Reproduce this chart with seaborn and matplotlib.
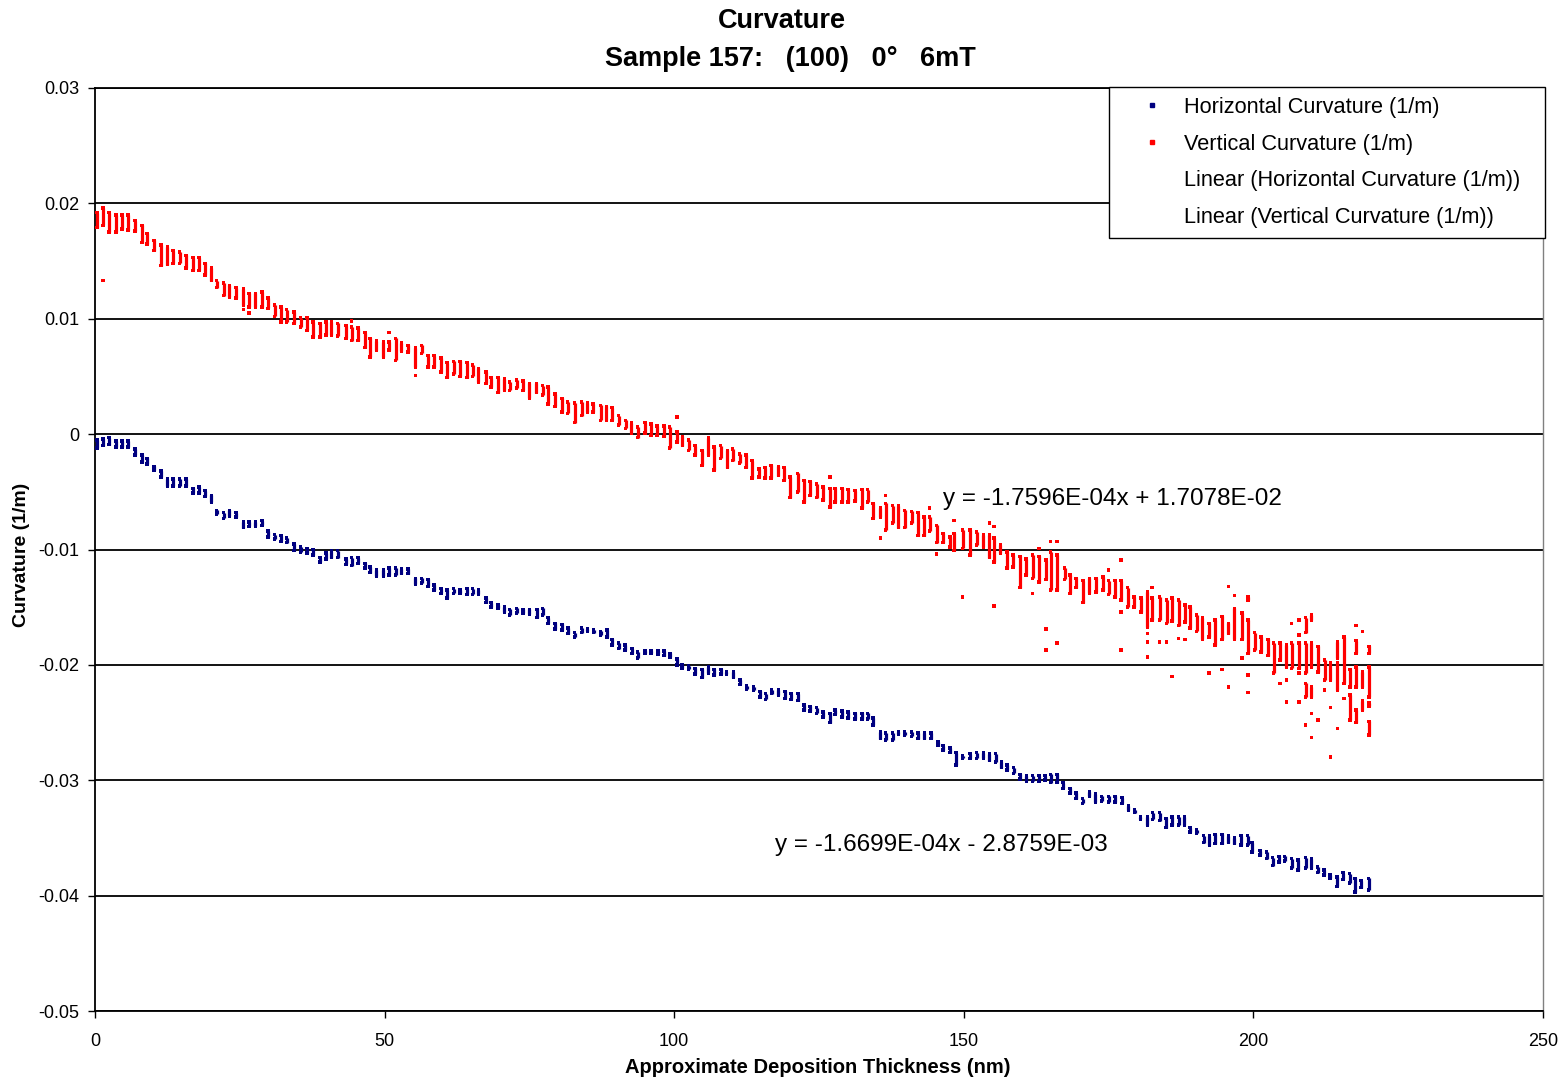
import matplotlib
matplotlib.use("Agg")
import matplotlib.pyplot as plt
from matplotlib.lines import Line2D
import seaborn as sns
import pandas as pd

# ---- Horizontal curvature: each column is a short stack of readings (x, top, bottom)
h_x = [0.3, 1.4, 2.4, 3.6, 4.7, 5.7, 6.9, 8.1, 9.0, 10.2, 11.4, 12.5, 13.5, 14.6, 15.7, 16.9, 18.0, 19.0, 20.1,
       21.0, 22.2, 23.2, 24.3, 25.6, 26.6, 27.7, 28.8, 29.9, 31.0, 32.1, 33.1, 34.4, 35.5, 36.6, 37.6, 38.8,
       39.9, 40.8, 41.9, 43.3, 44.3, 45.4, 46.6, 47.5, 48.6, 49.8, 50.8, 51.9, 52.9, 54.0, 55.3, 56.4, 57.5,
       58.5, 59.7, 60.8, 61.9, 63.0, 64.2, 65.2, 66.2, 67.5, 68.4, 69.6, 70.7, 71.6, 72.8, 73.9, 75.0, 76.3,
       77.3, 78.2, 79.4, 80.6, 81.7, 82.8, 84.0, 85.0, 86.1, 87.3, 88.4, 89.3, 90.4, 91.5, 92.7, 93.7, 95.0,
       96.0, 97.2, 98.2, 99.3, 100.5, 101.3, 102.5, 103.6, 104.8, 105.9, 106.9, 108.1, 109.0, 110.2, 111.4,
       112.5, 113.7, 114.8, 115.8, 116.8, 118.0, 119.1, 120.2, 121.4, 122.4, 123.4, 124.6, 125.7, 126.9, 127.8,
       129.0, 130.0, 131.2, 132.4, 133.4, 134.3, 135.6, 136.5, 137.7, 138.7, 139.8, 141.0, 142.1, 143.2, 144.3,
       145.5, 146.4, 147.6, 148.7, 149.8, 151.1, 152.2, 153.4, 154.4, 155.5, 156.5, 157.5, 158.6, 159.7, 160.8,
       161.9, 163.0, 164.0, 165.0, 166.1, 167.1, 168.3, 169.4, 170.5, 171.7, 172.7, 173.8, 175.0, 176.1, 177.3,
       178.4, 179.5, 180.5, 181.7, 182.6, 183.8, 184.9, 185.9, 187.1, 188.1, 189.1, 190.2, 191.4, 192.4, 193.4,
       194.6, 195.7, 196.7, 197.9, 199.0, 199.8, 201.1, 202.3, 203.3, 204.4, 205.4, 206.6, 207.7, 209.0, 210.0,
       211.1, 212.2, 213.2, 214.4, 215.5, 216.6, 217.5, 218.6, 219.9]
h_top = [-0.0005, -0.0004, -0.0003, -0.0006, -0.0006, -0.0006, -0.0013, -0.0018, -0.0021, -0.0028, -0.0032,
         -0.0039, -0.0039, -0.0039, -0.0039, -0.0047, -0.0046, -0.0049, -0.0053, -0.0066, -0.0068, -0.0066,
         -0.0068, -0.0076, -0.0076, -0.0076, -0.0075, -0.0084, -0.0087, -0.0088, -0.0090, -0.0095, -0.0098,
         -0.0099, -0.0100, -0.0107, -0.0103, -0.0101, -0.0101, -0.0108, -0.0107, -0.0107, -0.0112, -0.0115,
         -0.0118, -0.0118, -0.0116, -0.0116, -0.0117, -0.0117, -0.0125, -0.0125, -0.0126, -0.0131, -0.0134,
         -0.0135, -0.0134, -0.0135, -0.0134, -0.0134, -0.0135, -0.0142, -0.0146, -0.0148, -0.0150, -0.0152,
         -0.0151, -0.0152, -0.0152, -0.0152, -0.0151, -0.0159, -0.0164, -0.0165, -0.0168, -0.0172, -0.0168,
         -0.0169, -0.0170, -0.0171, -0.0170, -0.0178, -0.0181, -0.0183, -0.0186, -0.0189, -0.0188, -0.0188,
         -0.0188, -0.0188, -0.0190, -0.0195, -0.0200, -0.0201, -0.0203, -0.0204, -0.0202, -0.0204, -0.0204,
         -0.0206, -0.0206, -0.0213, -0.0218, -0.0219, -0.0223, -0.0225, -0.0222, -0.0222, -0.0223, -0.0225,
         -0.0225, -0.0235, -0.0236, -0.0237, -0.0241, -0.0242, -0.0239, -0.0240, -0.0241, -0.0242, -0.0242,
         -0.0242, -0.0246, -0.0258, -0.0259, -0.0259, -0.0258, -0.0258, -0.0258, -0.0259, -0.0259, -0.0259,
         -0.0267, -0.0270, -0.0272, -0.0276, -0.0279, -0.0277, -0.0276, -0.0276, -0.0277, -0.0277, -0.0284,
         -0.0287, -0.0289, -0.0295, -0.0296, -0.0296, -0.0296, -0.0296, -0.0295, -0.0295, -0.0302, -0.0307,
         -0.0311, -0.0316, -0.0310, -0.0312, -0.0314, -0.0314, -0.0314, -0.0315, -0.0322, -0.0326, -0.0332,
         -0.0332, -0.0328, -0.0328, -0.0333, -0.0332, -0.0332, -0.0332, -0.0341, -0.0343, -0.0348, -0.0348,
         -0.0347, -0.0347, -0.0348, -0.0350, -0.0348, -0.0348, -0.0354, -0.0361, -0.0362, -0.0367, -0.0366,
         -0.0366, -0.0368, -0.0369, -0.0367, -0.0368, -0.0375, -0.0378, -0.0382, -0.0384, -0.0380, -0.0381,
         -0.0385, -0.0387, -0.0385]
h_bot = [-0.0012, -0.0010, -0.0009, -0.0011, -0.0011, -0.0011, -0.0018, -0.0024, -0.0026, -0.0031, -0.0037,
         -0.0045, -0.0045, -0.0045, -0.0045, -0.0051, -0.0051, -0.0054, -0.0059, -0.0069, -0.0073, -0.0071,
         -0.0072, -0.0081, -0.0080, -0.0080, -0.0079, -0.0089, -0.0091, -0.0093, -0.0094, -0.0101, -0.0102,
         -0.0103, -0.0105, -0.0111, -0.0108, -0.0107, -0.0107, -0.0113, -0.0114, -0.0112, -0.0116, -0.0120,
         -0.0123, -0.0123, -0.0122, -0.0122, -0.0121, -0.0121, -0.0130, -0.0129, -0.0132, -0.0135, -0.0138,
         -0.0142, -0.0138, -0.0138, -0.0139, -0.0139, -0.0139, -0.0146, -0.0150, -0.0151, -0.0154, -0.0157,
         -0.0155, -0.0155, -0.0156, -0.0159, -0.0157, -0.0164, -0.0169, -0.0170, -0.0173, -0.0176, -0.0172,
         -0.0171, -0.0172, -0.0174, -0.0176, -0.0183, -0.0186, -0.0187, -0.0190, -0.0194, -0.0190, -0.0190,
         -0.0191, -0.0192, -0.0193, -0.0200, -0.0203, -0.0204, -0.0208, -0.0211, -0.0207, -0.0209, -0.0208,
         -0.0208, -0.0211, -0.0217, -0.0221, -0.0222, -0.0228, -0.0230, -0.0225, -0.0226, -0.0229, -0.0230,
         -0.0231, -0.0239, -0.0240, -0.0242, -0.0245, -0.0250, -0.0243, -0.0245, -0.0246, -0.0247, -0.0247,
         -0.0247, -0.0252, -0.0264, -0.0265, -0.0265, -0.0260, -0.0261, -0.0262, -0.0264, -0.0264, -0.0264,
         -0.0270, -0.0274, -0.0276, -0.0287, -0.0281, -0.0281, -0.0281, -0.0281, -0.0283, -0.0284, -0.0289,
         -0.0291, -0.0294, -0.0299, -0.0301, -0.0301, -0.0301, -0.0300, -0.0302, -0.0302, -0.0307, -0.0311,
         -0.0316, -0.0320, -0.0314, -0.0319, -0.0318, -0.0319, -0.0319, -0.0320, -0.0326, -0.0328, -0.0334,
         -0.0339, -0.0334, -0.0335, -0.0341, -0.0339, -0.0339, -0.0339, -0.0345, -0.0346, -0.0354, -0.0356,
         -0.0355, -0.0355, -0.0354, -0.0355, -0.0356, -0.0356, -0.0362, -0.0365, -0.0368, -0.0374, -0.0371,
         -0.0370, -0.0376, -0.0378, -0.0376, -0.0376, -0.0380, -0.0382, -0.0385, -0.0392, -0.0386, -0.0389,
         -0.0397, -0.0393, -0.0395]

# ---- Vertical curvature: stacks of readings, several stacks may share one x
v_x = [0.3, 1.4, 1.4, 2.4, 3.6, 4.7, 5.7, 6.9, 8.1, 9.0, 10.2, 11.4, 12.5, 13.5, 14.6, 15.7, 16.9, 18.0, 19.0,
       20.1, 21.0, 22.2, 23.2, 24.3, 25.6, 25.6, 26.6, 26.6, 27.7, 28.8, 29.9, 31.0, 32.1, 33.1, 34.4, 35.5,
       36.6, 37.6, 38.8, 39.9, 40.8, 41.9, 43.3, 44.3, 44.3, 45.4, 46.6, 47.5, 48.6, 49.8, 50.8, 50.8, 51.9,
       52.9, 54.0, 55.3, 55.3, 56.4, 57.5, 58.5, 59.7, 60.8, 61.9, 63.0, 64.2, 65.2, 66.2, 67.5, 68.4, 69.6,
       70.7, 71.6, 72.8, 73.9, 75.0, 76.2, 77.3, 78.2, 79.4, 80.6, 81.6, 82.8, 84.0, 85.0, 86.0, 87.3, 88.3,
       89.3, 90.4, 91.6, 92.6, 93.7, 95.0, 96.0, 97.0, 98.2, 99.2, 100.5, 100.5, 101.4, 102.5, 103.6, 104.8,
       105.9, 106.9, 108.0, 109.2, 110.1, 111.3, 112.4, 113.4, 114.6, 115.7, 116.7, 118.0, 119.0, 120.0, 121.3,
       122.4, 123.4, 124.6, 125.7, 126.9, 126.9, 127.8, 129.0, 130.0, 131.2, 132.4, 133.4, 134.3, 135.6, 135.6,
       136.5, 136.5, 137.7, 138.7, 139.8, 141.0, 142.1, 143.1, 144.1, 144.1, 145.3, 145.3, 146.4, 147.6, 148.3,
       148.3, 149.8, 149.8, 151.1, 152.2, 153.4, 154.4, 154.4, 155.2, 155.2, 155.2, 156.3, 157.5, 158.5, 159.7,
       160.7, 161.9, 161.9, 163.0, 163.0, 164.2, 164.2, 164.2, 165.0, 165.0, 166.1, 166.1, 166.1, 167.4, 168.3,
       169.4, 170.6, 171.7, 172.8, 174.0, 175.0, 175.0, 176.1, 177.1, 177.1, 177.1, 177.1, 178.3, 179.4, 180.6,
       181.7, 181.7, 181.7, 181.7, 182.5, 182.5, 183.8, 183.8, 185.0, 185.0, 185.9, 185.9, 187.1, 187.1, 188.2,
       188.2, 189.1, 190.2, 191.2, 192.3, 192.3, 193.4, 194.6, 194.6, 195.7, 195.7, 195.7, 196.7, 196.7, 198.0,
       198.0, 199.1, 199.1, 199.1, 199.1, 200.2, 201.3, 202.5, 203.5, 204.6, 204.6, 205.7, 205.7, 205.7, 206.6,
       206.6, 207.9, 207.9, 207.9, 207.9, 207.9, 209.0, 209.0, 209.0, 209.0, 210.0, 210.0, 210.0, 210.0, 210.0,
       211.2, 211.2, 212.3, 212.3, 213.3, 213.3, 213.3, 214.5, 214.5, 214.5, 215.6, 215.6, 216.7, 216.7, 217.7,
       217.7, 217.7, 217.7, 218.8, 218.8, 218.8, 220.0, 220.0, 220.0, 220.0]
v_top = [0.0192, 0.0196, 0.0133, 0.0192, 0.0190, 0.0190, 0.0190, 0.0185, 0.0181, 0.0174, 0.0168, 0.0164, 0.0162,
         0.0159, 0.0158, 0.0155, 0.0153, 0.0153, 0.0148, 0.0144, 0.0133, 0.0131, 0.0129, 0.0127, 0.0126, 0.0108,
         0.0122, 0.0105, 0.0122, 0.0123, 0.0118, 0.0112, 0.0110, 0.0108, 0.0106, 0.0101, 0.0101, 0.0097, 0.0096,
         0.0097, 0.0097, 0.0096, 0.0094, 0.0098, 0.0093, 0.0092, 0.0088, 0.0083, 0.0081, 0.0080, 0.0088, 0.0080,
         0.0083, 0.0079, 0.0077, 0.0075, 0.0051, 0.0077, 0.0068, 0.0068, 0.0066, 0.0062, 0.0063, 0.0063, 0.0062,
         0.0060, 0.0057, 0.0054, 0.0049, 0.0049, 0.0048, 0.0045, 0.0047, 0.0046, 0.0044, 0.0044, 0.0042, 0.0041,
         0.0035, 0.0031, 0.0028, 0.0027, 0.0028, 0.0027, 0.0026, 0.0025, 0.0024, 0.0023, 0.0016, 0.0012, 0.0010,
         0.0006, 0.0010, 0.0009, 0.0007, 0.0007, 0.0006, 0.0015, 0.0002, -0.0002, -0.0005, -0.0010, -0.0014,
         -0.0003, -0.0011, -0.0010, -0.0014, -0.0013, -0.0017, -0.0018, -0.0023, -0.0030, -0.0029, -0.0027,
         -0.0028, -0.0029, -0.0037, -0.0034, -0.0040, -0.0041, -0.0043, -0.0046, -0.0037, -0.0047, -0.0047,
         -0.0047, -0.0048, -0.0049, -0.0048, -0.0048, -0.0060, -0.0064, -0.0090, -0.0053, -0.0060, -0.0062,
         -0.0062, -0.0066, -0.0067, -0.0068, -0.0072, -0.0064, -0.0072, -0.0079, -0.0104, -0.0086, -0.0089,
         -0.0075, -0.0086, -0.0083, -0.0141, -0.0083, -0.0085, -0.0087, -0.0077, -0.0087, -0.0080, -0.0090,
         -0.0149, -0.0096, -0.0102, -0.0105, -0.0106, -0.0108, -0.0105, -0.0138, -0.0099, -0.0106, -0.0109,
         -0.0169, -0.0187, -0.0093, -0.0102, -0.0093, -0.0105, -0.0181, -0.0116, -0.0122, -0.0125, -0.0127,
         -0.0125, -0.0125, -0.0124, -0.0118, -0.0127, -0.0127, -0.0109, -0.0127, -0.0154, -0.0187, -0.0133,
         -0.0141, -0.0142, -0.0137, -0.0173, -0.0180, -0.0193, -0.0133, -0.0142, -0.0141, -0.0180, -0.0144,
         -0.0180, -0.0142, -0.0210, -0.0144, -0.0177, -0.0148, -0.0178, -0.0150, -0.0157, -0.0159, -0.0164,
         -0.0207, -0.0161, -0.0158, -0.0204, -0.0132, -0.0164, -0.0219, -0.0140, -0.0151, -0.0155, -0.0194,
         -0.0141, -0.0161, -0.0209, -0.0224, -0.0172, -0.0176, -0.0178, -0.0181, -0.0181, -0.0216, -0.0183,
         -0.0213, -0.0232, -0.0164, -0.0181, -0.0161, -0.0174, -0.0181, -0.0207, -0.0232, -0.0159, -0.0181,
         -0.0216, -0.0252, -0.0157, -0.0181, -0.0219, -0.0242, -0.0263, -0.0184, -0.0248, -0.0196, -0.0222,
         -0.0198, -0.0237, -0.0280, -0.0180, -0.0198, -0.0255, -0.0176, -0.0229, -0.0204, -0.0226, -0.0166,
         -0.0179, -0.0202, -0.0239, -0.0171, -0.0206, -0.0231, -0.0184, -0.0202, -0.0233, -0.0249]
v_bot = [0.0179, 0.0181, 0.0133, 0.0175, 0.0175, 0.0178, 0.0177, 0.0176, 0.0166, 0.0165, 0.0159, 0.0146, 0.0147,
         0.0148, 0.0148, 0.0144, 0.0142, 0.0142, 0.0138, 0.0133, 0.0127, 0.0120, 0.0119, 0.0118, 0.0112, 0.0108,
         0.0110, 0.0105, 0.0110, 0.0110, 0.0109, 0.0102, 0.0097, 0.0097, 0.0096, 0.0093, 0.0090, 0.0084, 0.0084,
         0.0086, 0.0086, 0.0085, 0.0083, 0.0098, 0.0081, 0.0081, 0.0075, 0.0067, 0.0073, 0.0067, 0.0088, 0.0073,
         0.0064, 0.0072, 0.0071, 0.0058, 0.0051, 0.0070, 0.0058, 0.0058, 0.0054, 0.0049, 0.0052, 0.0050, 0.0049,
         0.0050, 0.0045, 0.0044, 0.0041, 0.0036, 0.0038, 0.0038, 0.0040, 0.0038, 0.0031, 0.0036, 0.0034, 0.0026,
         0.0024, 0.0019, 0.0018, 0.0010, 0.0016, 0.0019, 0.0019, 0.0012, 0.0012, 0.0012, 0.0008, 0.0005, 0.0001,
         -0.0003, 0.0001, -0.0001, -0.0001, -0.0002, -0.0012, 0.0015, -0.0007, -0.0010, -0.0014, -0.0018, -0.0027,
         -0.0018, -0.0031, -0.0021, -0.0029, -0.0023, -0.0025, -0.0029, -0.0038, -0.0037, -0.0038, -0.0038,
         -0.0036, -0.0040, -0.0055, -0.0050, -0.0059, -0.0053, -0.0055, -0.0057, -0.0037, -0.0063, -0.0059,
         -0.0059, -0.0059, -0.0058, -0.0064, -0.0059, -0.0073, -0.0072, -0.0090, -0.0053, -0.0083, -0.0077,
         -0.0081, -0.0081, -0.0077, -0.0088, -0.0088, -0.0064, -0.0084, -0.0094, -0.0104, -0.0094, -0.0098,
         -0.0075, -0.0101, -0.0099, -0.0141, -0.0105, -0.0096, -0.0098, -0.0077, -0.0107, -0.0080, -0.0111,
         -0.0149, -0.0103, -0.0116, -0.0115, -0.0133, -0.0122, -0.0125, -0.0138, -0.0099, -0.0128, -0.0126,
         -0.0169, -0.0187, -0.0093, -0.0135, -0.0093, -0.0135, -0.0181, -0.0126, -0.0138, -0.0133, -0.0146,
         -0.0138, -0.0137, -0.0135, -0.0118, -0.0139, -0.0141, -0.0109, -0.0144, -0.0154, -0.0187, -0.0150,
         -0.0150, -0.0154, -0.0167, -0.0173, -0.0180, -0.0193, -0.0133, -0.0161, -0.0161, -0.0180, -0.0164,
         -0.0180, -0.0162, -0.0210, -0.0166, -0.0177, -0.0163, -0.0178, -0.0168, -0.0171, -0.0178, -0.0176,
         -0.0207, -0.0183, -0.0178, -0.0204, -0.0132, -0.0173, -0.0219, -0.0140, -0.0178, -0.0178, -0.0194,
         -0.0144, -0.0190, -0.0209, -0.0224, -0.0187, -0.0189, -0.0192, -0.0207, -0.0196, -0.0216, -0.0202,
         -0.0213, -0.0232, -0.0164, -0.0203, -0.0161, -0.0174, -0.0203, -0.0207, -0.0232, -0.0172, -0.0207,
         -0.0228, -0.0252, -0.0161, -0.0202, -0.0228, -0.0242, -0.0263, -0.0206, -0.0248, -0.0213, -0.0222,
         -0.0213, -0.0237, -0.0280, -0.0194, -0.0222, -0.0255, -0.0216, -0.0229, -0.0219, -0.0248, -0.0166,
         -0.0190, -0.0219, -0.0250, -0.0171, -0.0219, -0.0239, -0.0190, -0.0228, -0.0236, -0.0261]

# ---- labels, ticks and fitted trend equations
series_names = ["Horizontal Curvature (1/m)", "Vertical Curvature (1/m)",
                "Linear (Horizontal Curvature (1/m))", "Linear (Vertical Curvature (1/m))"]
x_ticks = [0, 50, 100, 150, 200, 250]
y_ticks = [0.03, 0.02, 0.01, 0, -0.01, -0.02, -0.03, -0.04, -0.05]
y_tick_labels = ["0.03", "0.02", "0.01", "0", "-0.01", "-0.02", "-0.03", "-0.04", "-0.05"]
eq_vertical = "y = -1.7596E-04x + 1.7078E-02"
eq_horizontal = "y = -1.6699E-04x - 2.8759E-03"
eq_vertical_pos = (146.4, -0.0056)
eq_horizontal_pos = (117.4, -0.0356)

H_COLOR = "#000080"
V_COLOR = "#FF0000"
W, H = 1564, 1078

sns.set_theme(style="white")
plt.rcParams["font.family"] = ["Liberation Sans", "DejaVu Sans"]
plt.rcParams.update({"text.color": "black", "axes.labelcolor": "black",
                     "xtick.color": "black", "ytick.color": "black"})

fig = plt.figure(figsize=(W / 100, H / 100), dpi=100)
ax = fig.add_axes([95 / W, 1 - 1011 / H, (1543 - 95) / W, (1011 - 88) / H])


def draw_series(ax, xs, tops, bots, color):
    # each reading stack is a short vertical bar capped by square markers
    ax.vlines(xs, bots, tops, colors=color, linewidth=2.3, zorder=3)
    pts = pd.DataFrame({"x": list(xs) + list(xs), "y": list(tops) + list(bots)})
    sns.scatterplot(data=pts, x="x", y="y", marker="s", s=6.5, color=color,
                    edgecolor="none", linewidth=0, legend=False, ax=ax, zorder=3)


draw_series(ax, h_x, h_top, h_bot, H_COLOR)
draw_series(ax, v_x, v_top, v_bot, V_COLOR)

ax.set_xlim(0, 250)
ax.set_ylim(-0.05, 0.03)
ax.set_xticks(x_ticks)
ax.set_xticklabels([str(t) for t in x_ticks])
ax.set_yticks(y_ticks)
ax.set_yticklabels(y_tick_labels)
ax.tick_params(axis="x", bottom=True, direction="out", length=5, width=1, color="black",
               pad=10.5, labelsize=13)
ax.tick_params(axis="y", left=True, direction="out", length=5, width=1, color="black",
               pad=6, labelsize=13)
ax.set_xlabel("")
ax.set_ylabel("")

# horizontal gridlines only
ax.yaxis.grid(True, color="black", linewidth=1.3)
ax.xaxis.grid(False)
ax.set_axisbelow(True)
for side in ["left", "bottom", "top"]:
    ax.spines[side].set_color("black")
    ax.spines[side].set_linewidth(1.3)
ax.spines["right"].set_color("#808080")
ax.spines["right"].set_linewidth(1.0)

# axis titles
fig.text(818 / W, 1 - 1073 / H, "Approximate Deposition Thickness (nm)", ha="center", va="baseline",
         fontsize=14.5, fontweight="bold")
fig.text(22 / W, 1 - 555 / H, "Curvature (1/m)", ha="center", va="center", rotation=90,
         fontsize=14, fontweight="bold")

# chart title
fig.text(782 / W, 1 - 21 / H, "Curvature", ha="center", va="center",
         fontsize=19.5, fontweight="bold")
fig.text(790 / W, 1 - 59 / H, "Sample 157:   (100)   0°   6mT", ha="center", va="center",
         fontsize=19.5, fontweight="bold")

ax.text(*eq_vertical_pos, eq_vertical, fontsize=17.5, va="center", ha="left", color="black")
ax.text(*eq_horizontal_pos, eq_horizontal, fontsize=17.5, va="center", ha="left", color="black")

handles = [
    Line2D([], [], linestyle="none", marker="s", markersize=2.6, color=H_COLOR),
    Line2D([], [], linestyle="none", marker="s", markersize=2.6, color=V_COLOR),
    Line2D([], [], linestyle="none"),
    Line2D([], [], linestyle="none"),
]
leg = fig.legend(handles, series_names, loc="upper left", mode="expand",
                 bbox_to_anchor=(1109 / W, 1 - 237 / H, 436 / W, 150 / H),
                 bbox_transform=fig.transFigure,
                 fontsize=15.7, frameon=True, fancybox=False, framealpha=1, edgecolor="black",
                 borderpad=0.45, labelspacing=0.72, handlelength=3.0, handletextpad=0.0,
                 borderaxespad=0)
leg.get_frame().set_linewidth(1.0)

fig.savefig("out.png", dpi=100)
